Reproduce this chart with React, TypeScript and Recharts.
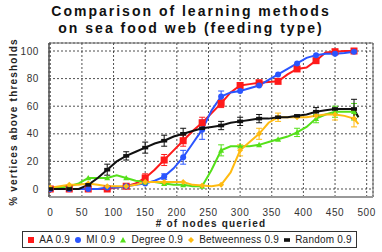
import { LineChart, Line, XAxis, YAxis, CartesianGrid, ErrorBar, ReferenceArea } from 'recharts'

const xs = [0, 15, 30, 45, 60, 75, 90, 105, 120, 135, 150, 165, 180, 195, 210, 225, 240, 255, 270, 285, 300, 315, 330, 345, 360, 375, 390, 405, 420, 435, 450, 465, 480, 487]

const aa = [0, 0, 0, 0, 0, 0, 0, 1, 2, 4, 8, 14, 21, 28, 35, 42, 48, 55, 62, 70, 75, 76, 77, 77.5, 78, 83, 87, 88, 93, 99, 99.5, 100, 100, null]
const mi = [0, 0, 0, 0, 0, 0, 1, 1, 2, 3, 4, 6, 9, 15, 23, 33, 43, 57, 67, 70, 71, 73, 75, 79, 83, 87, 91, 95, 97, 98, 98, 98.5, 99.5, null]
const degree = [1, 1, 2, 4, 8, 8, 8, 10, 8, 6, 5, 5, 4, 3, 3, 2, 2, 14, 28, 31, 31, 31, 32, 34, 36, 38, 41, 45, 51, 54, 56, 56, 56, 52]
const betweenness = [1, 2, 3, 3, 4, 3, 2, 2, 2, 3, 5, 5, 5, 5, 5, 3, 2.5, 2, 3, 12, 28, 34, 40, 48, 52, 52, 52, 52, 53, 54, 54, 53, 51, 47]
const random = [0, 0, 0, 0, 3, 8, 14, 20, 24, 27, 30, 33, 35, 38, 40, 42, 44, 45, 46, 48, 49, 50, 51, 51, 52, 52, 53, 54, 56, 57, 58, 58, 58, 52]

// [x, error] pairs, only where bars are visible
const aaErr: [number, number][] = [[150, 3], [180, 4], [210, 4], [240, 4], [270, 3]]
const miErr: [number, number][] = [[180, 2], [210, 5], [240, 7], [270, 4]]
const degreeErr: [number, number][] = [[270, 4], [390, 3], [420, 3], [450, 4], [480, 6]]
const betweennessErr: [number, number][] = [[300, 4], [330, 4], [360, 3], [450, 4], [480, 6]]
const randomErr: [number, number][] = [[90, 4], [120, 3], [150, 4], [180, 4], [210, 4], [270, 3], [300, 3], [330, 3], [420, 3], [480, 7]]

const xTicks = [0, 50, 100, 150, 200, 250, 300, 350, 400, 450, 500]
const yTicks = [0, 10, 20, 30, 40, 50, 60, 70, 80, 90, 100]

const errAt = (list: [number, number][], x: number) => {
    const f = list.find((e) => e[0] === x)
    return f ? f[1] : null
}

const data = xs.map((x, i) => ({
    x,
    aa: aa[i],
    mi: mi[i],
    degree: degree[i],
    betweenness: betweenness[i],
    random: random[i],
    aaErr: errAt(aaErr, x),
    miErr: errAt(miErr, x),
    degreeErr: errAt(degreeErr, x),
    betweennessErr: errAt(betweennessErr, x),
    randomErr: errAt(randomErr, x),
}))

const series = [
    { key: 'aa', name: 'AA 0.9', color: '#ff1a1a', shape: 'square' },
    { key: 'mi', name: 'MI 0.9', color: '#2a55ff', shape: 'circle' },
    { key: 'degree', name: 'Degree 0.9', color: '#55e01a', shape: 'triangle' },
    { key: 'betweenness', name: 'Betweenness 0.9', color: '#ffbb11', shape: 'diamond' },
    { key: 'random', name: 'Random 0.9', color: '#111111', shape: 'bar' },
]

function Marker({ shape, color, cx, cy, s }: { shape: string; color: string; cx: number; cy: number; s: number }) {
    if (shape === 'square') return <rect x={cx - s} y={cy - s} width={s * 2} height={s * 2} fill={color} />
    if (shape === 'circle') return <circle cx={cx} cy={cy} r={s} fill={color} />
    if (shape === 'triangle') return <polygon points={`${cx},${cy - s} ${cx + s},${cy + s * 0.8} ${cx - s},${cy + s * 0.8}`} fill={color} />
    if (shape === 'diamond') return <polygon points={`${cx},${cy - s} ${cx + s},${cy} ${cx},${cy + s} ${cx - s},${cy}`} fill={color} />
    return <rect x={cx - s} y={cy - s * 0.6} width={s * 2} height={s * 1.2} fill={color} />
}

const makeDot = (shape: string, color: string) => (props: any) => {
    const { cx, cy, payload, index } = props
    if (cx == null || cy == null || payload.x % 30 !== 0 || payload[props.dataKey] == null) return <g key={index} />
    return (
        <g key={index}>
            <Marker shape={shape} color={color} cx={cx} cy={cy} s={shape === 'square' ? 3.5 : 3} />
        </g>
    )
}

const tickStyle = { fontSize: 10, fill: '#333', fontFamily: 'Liberation Sans, Arial, sans-serif', letterSpacing: 0.6 }

function App() {
    return (
        <div style={{ position: 'fixed', left: 0, top: 0, width: 382, height: 252, background: '#fff', fontFamily: 'Liberation Sans, Arial, sans-serif' }}>
            <div style={{ position: 'absolute', left: 0, top: 3, width: 382, textAlign: 'center', fontSize: 14, fontWeight: 'bold', letterSpacing: 2, lineHeight: '17px', color: '#111' }}>
                Comparison of learning methods
                <br />
                on sea food web (feeding type)
            </div>
            <div style={{ position: 'absolute', left: 13, top: 122, transform: 'translate(-50%, -50%) rotate(-90deg)', whiteSpace: 'nowrap', fontSize: 10, fontWeight: 'bold', letterSpacing: 1.2, color: '#222' }}>
                % vertices above thresholds
            </div>
            <div style={{ position: 'absolute', left: 211, top: 223, transform: 'translate(-50%, -50%)', whiteSpace: 'nowrap', fontSize: 10, fontWeight: 'bold', letterSpacing: 1.2, color: '#222' }}>
                # of nodes queried
            </div>
            <LineChart width={382} height={252} data={data} margin={{ top: 43, right: 9, bottom: 25, left: 0 }} style={{ position: 'absolute', left: 0, top: 0 }}>
                <CartesianGrid stroke="#222" strokeDasharray="2 2" strokeWidth={0.8} />
                <XAxis dataKey="x" type="number" domain={[-2, 510]} ticks={xTicks} allowDataOverflow height={30} axisLine={{ stroke: '#999', strokeWidth: 2 }} tickLine={false} tick={tickStyle} tickMargin={6} />
                <YAxis type="number" domain={[-5.8, 105.8]} ticks={yTicks} allowDataOverflow width={49} axisLine={{ stroke: '#444' }} tickLine={false} tick={tickStyle} tickMargin={4} />
                <ReferenceArea x1={-2} x2={510} y1={-5.8} y2={105.8} fill="none" stroke="#666" strokeWidth={1} ifOverflow="visible" />
                {series.map((s) => (
                    <Line key={s.key} dataKey={s.key} name={s.name} stroke={s.color} strokeWidth={2} dot={makeDot(s.shape, s.color)} activeDot={false} isAnimationActive={false} connectNulls={false}>
                        <ErrorBar dataKey={`${s.key}Err`} stroke={s.color} strokeWidth={1} width={3} direction="y" />
                    </Line>
                ))}
            </LineChart>
            <div style={{ position: 'absolute', left: 22, top: 231, width: 333, height: 15, border: '1.5px solid #333', display: 'flex', alignItems: 'center', justifyContent: 'space-evenly', fontSize: 10, letterSpacing: 0.2, color: '#222', whiteSpace: 'nowrap' }}>
                {series.map((s) => (
                    <span key={s.key} style={{ display: 'flex', alignItems: 'center' }}>
                        <svg width={8} height={8} style={{ marginRight: 4 }}>
                            <Marker shape={s.shape} color={s.color} cx={4} cy={4} s={3} />
                        </svg>
                        {s.name}
                    </span>
                ))}
            </div>
        </div>
    )
}

export default App
